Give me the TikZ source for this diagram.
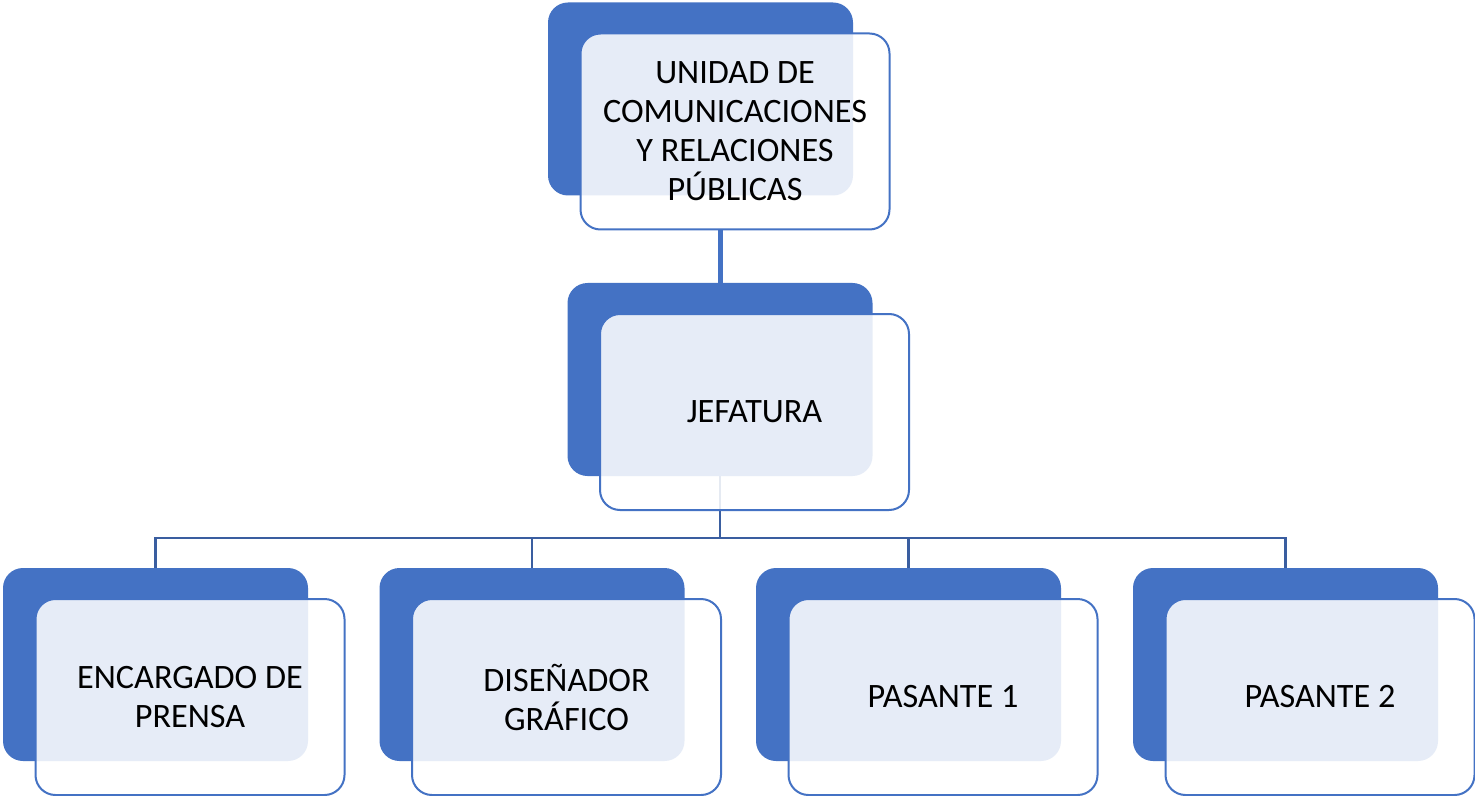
\documentclass[tikz,border=0pt]{standalone}
\usepackage{fontspec}
\setmainfont{Carlito}
\usetikzlibrary{positioning}
\usetikzlibrary{backgrounds}
\definecolor{unitblue}{RGB}{68,114,196}
\definecolor{linkblue}{RGB}{58,94,160}
\tikzset{
	back/.style={rectangle, rounded corners=10pt, inner sep=0pt, minimum width=152.5pt, minimum height=96.5pt, fill=unitblue},
	front/.style={rectangle, rounded corners=10pt, inner sep=0pt, minimum width=154.5pt, minimum height=98pt, draw=unitblue, line width=1pt, fill=white, fill opacity=0.87, text opacity=1, align=center, font=\fontsize{17.1}{19.5}\selectfont, xshift=17.25pt, yshift=-16.25pt},
}

\begin{document}
\begin{tikzpicture}[x=0.5pt, y=-0.5pt]
\useasboundingbox (0,0) rectangle (1475,796);

\node (unidadB) [back] at (700.5,99) {};
\node (jefaturaB) [back] at (720,379.5) {};
\node (encargadoB) [back] at (155.5,664.5) {};
\node (disenadorB) [back] at (532,664.5) {};
\node (pasante1B) [back] at (908.5,664.5) {};
\node (pasante2B) [back] at (1285.5,664.5) {};

\node (unidad) [front] at (unidadB) {UNIDAD DE\\COMUNICACIONES\\Y RELACIONES\\PÚBLICAS};
\node (jefatura) [front] at (jefaturaB) {JEFATURA};
\node (encargado) [front] at (encargadoB) {ENCARGADO DE\\PRENSA};
\node (disenador) [front] at (disenadorB) {DISEÑADOR\\GRÁFICO};
\node (pasante1) [front] at (pasante1B) {PASANTE 1};
\node (pasante2) [front] at (pasante2B) {PASANTE 2};

\coordinate (bus) at (720,538);

\begin{scope}[on background layer]
	\fill[white] (0,0) rectangle (1475,796);
	\draw[unitblue, line width=2.5pt, xshift=-1.5pt] (jefaturaB.north) -- (jefaturaB.north |- unidad.south);
	\begin{scope}[linkblue, line width=1.2pt]
		\draw (jefaturaB.south) -- (bus);
		\foreach \n in {encargadoB, disenadorB, pasante1B, pasante2B}
			\draw (bus) -| (\n.north);
	\end{scope}
\end{scope}
\end{tikzpicture}
\end{document}
